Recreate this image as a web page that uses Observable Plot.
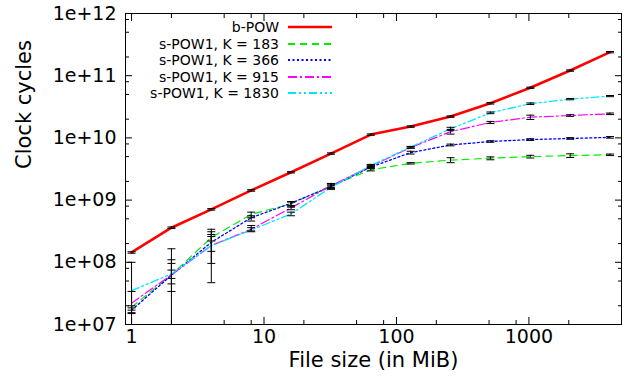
<!DOCTYPE html>
<html>
<head>
<meta charset="utf-8">
<script src="https://cdn.jsdelivr.net/npm/d3@7"></script>
<script src="https://cdn.jsdelivr.net/npm/@observablehq/plot@0.6"></script>
<style>
  html, body { margin: 0; padding: 0; background: white; }
</style>
</head>
<body>
<div id="chart"></div>
<script>
// ---- data ----
const fileSizes = [1, 2, 4, 8, 16, 32, 64, 128, 256, 512, 1024, 2048, 4096];

const seriesNames = ["b-POW", "s-POW1, K = 183", "s-POW1, K = 366", "s-POW1, K = 915", "s-POW1, K = 1830"];

const bPow   = [1.44e8, 3.6e8, 7.1e8, 1.43e9, 2.8e9, 5.6e9, 1.13e10, 1.52e10, 2.2e10, 3.6e10, 6.4e10, 1.21e11, 2.39e11];
const bPowLo = [1.40e8, 3.5e8, 6.9e8, 1.39e9, 2.73e9, 5.45e9, 1.10e10, 1.48e10, 2.14e10, 3.5e10, 6.25e10, 1.18e11, 2.33e11];
const bPowHi = [1.48e8, 3.7e8, 7.3e8, 1.47e9, 2.87e9, 5.75e9, 1.16e10, 1.56e10, 2.26e10, 3.7e10, 6.55e10, 1.24e11, 2.45e11];

const k183   = [1.9e7, 6.3e7, 2.5e8, 5.9e8, 8.7e8, 1.7e9, 3.07e9, 3.9e9, 4.4e9, 4.7e9, 5.0e9, 5.2e9, 5.35e9];
const k183Lo = [1.7e7, 3.4e7, 2.2e8, 5.2e8, 8.2e8, 1.55e9, 2.95e9, 3.8e9, 4.0e9, 4.45e9, 4.75e9, 4.85e9, 5.2e9];
const k183Hi = [2.0e7, 1.1e8, 2.8e8, 6.4e8, 9.3e8, 1.85e9, 3.2e9, 4.0e9, 4.8e9, 4.95e9, 5.25e9, 5.55e9, 5.5e9];

const k366   = [1.7e7, 6.2e7, 2.1e8, 5.2e8, 8.9e8, 1.65e9, 3.4e9, 5.8e9, 7.7e9, 8.75e9, 9.4e9, 9.8e9, 1.02e10];
const k366Lo = [1.55e7, 4.5e7, 9.6e7, 4.6e8, 7.7e8, 1.5e9, 3.25e9, 5.5e9, 7.45e9, 8.5e9, 9.1e9, 9.5e9, 9.9e9];
const k366Hi = [1.85e7, 9.6e7, 3.1e8, 5.6e8, 9.5e8, 1.8e9, 3.55e9, 6.1e9, 7.95e9, 9.0e9, 9.7e9, 1.01e10, 1.05e10];

const k915   = [2.2e7, 6.3e7, 1.86e8, 3.4e8, 7.5e8, 1.7e9, 3.5e9, 7.0e9, 1.26e10, 1.77e10, 2.15e10, 2.29e10, 2.44e10];
const k915Lo = [1.5e7, 8e6, 4.7e7, 3.2e8, 7.0e8, 1.6e9, 3.35e9, 6.8e9, 1.15e10, 1.7e10, 1.98e10, 2.22e10, 2.37e10];
const k915Hi = [3.4e7, 1.65e8, 3.4e8, 3.9e8, 8.0e8, 1.85e9, 3.65e9, 7.2e9, 1.37e10, 1.84e10, 2.32e10, 2.36e10, 2.51e10];

const k1830   = [3.5e7, 6.5e7, 1.85e8, 3.3e8, 6.0e8, 1.6e9, 3.6e9, 7.1e9, 1.4e10, 2.53e10, 3.55e10, 4.2e10, 4.7e10];
const k1830Lo = [8e6, 5.5e7, 1.5e8, 3.1e8, 5.6e8, 1.5e9, 3.45e9, 6.9e9, 1.32e10, 2.45e10, 3.45e10, 4.1e10, 4.6e10];
const k1830Hi = [1.0e8, 7.5e7, 2.6e8, 3.6e8, 6.4e8, 1.7e9, 3.75e9, 7.3e9, 1.48e10, 2.61e10, 3.65e10, 4.3e10, 4.8e10];

const xMajorTicks = [1, 10, 100, 1000];
const xMinorTicks = [2, 5, 8, 20, 50, 80, 200, 500, 800, 2000];
const yMajorTicks = [1e7, 1e8, 1e9, 1e10, 1e11, 1e12];
const yMinorTicks = [2e7, 5e7, 8e7, 2e8, 5e8, 8e8, 2e9, 5e9, 8e9, 2e10, 5e10, 8e10, 2e11, 5e11, 8e11];

// ---- styles ----
const styles = [
  {color: "#ff0000", width: 2.6, dash: null},
  {color: "#00ee00", width: 1.2, dash: "7,5"},
  {color: "#0000ff", width: 1.3, dash: "2,2.5"},
  {color: "#ff00ff", width: 1.2, dash: "9,3,2,3"},
  {color: "#00e5ff", width: 1.3, dash: "8,3,2,3,2,3"}
];

const seriesData = [
  [bPow, bPowLo, bPowHi],
  [k183, k183Lo, k183Hi],
  [k366, k366Lo, k366Hi],
  [k915, k915Lo, k915Hi],
  [k1830, k1830Lo, k1830Hi]
];

const rows = [];
seriesData.forEach(([v, lo, hi], s) => {
  fileSizes.forEach((x, i) => rows.push({series: seriesNames[s], s, x, y: v[i], lo: lo[i], hi: hi[i]}));
});

const cap = {draw(ctx) { ctx.moveTo(-4, 0); ctx.lineTo(4, 0); }};
const fmtY = d => "1e+" + String(Math.round(Math.log10(d))).padStart(2, "0");

function legend() {
  const g = d3.create("svg:g").attr("font-family", "DejaVu Sans").attr("font-size", 14);
  seriesNames.forEach((name, i) => {
    const y = Math.round(27 + i * 16.5);
    g.append("text").attr("x", 279).attr("y", y).attr("dy", "0.35em")
      .attr("text-anchor", "end").attr("fill", "black").text(name);
    g.append("line").attr("x1", 288).attr("x2", 332).attr("y1", y).attr("y2", y)
      .attr("stroke", styles[i].color).attr("stroke-width", Math.max(2, styles[i].width))
      .attr("stroke-dasharray", styles[i].dash);
  });
  return g.node();
}

const marks = [];
styles.forEach((st, s) => {
  marks.push(Plot.line(rows.filter(r => r.s === s), {
    x: "x", y: "y", stroke: st.color, strokeWidth: st.width,
    strokeDasharray: st.dash, clip: true
  }));
});
marks.push(
  Plot.ruleX(rows, {x: "x", y1: "lo", y2: "hi", stroke: "black", strokeWidth: 1, clip: true}),
  Plot.dot(rows, {x: "x", y: "lo", symbol: cap, r: 4, stroke: "black", fill: "none", strokeWidth: 1, clip: true}),
  Plot.dot(rows, {x: "x", y: "hi", symbol: cap, r: 4, stroke: "black", fill: "none", strokeWidth: 1, clip: true}),
  // inward ticks on all four sides
  Plot.axisX(xMajorTicks, {anchor: "bottom", tickSize: -7, tickFormat: () => "", label: null}),
  Plot.axisX(xMinorTicks, {anchor: "bottom", tickSize: -4, tickFormat: () => "", label: null}),
  Plot.axisX(xMajorTicks, {anchor: "top", tickSize: -7, tickFormat: () => "", label: null}),
  Plot.axisX(xMinorTicks, {anchor: "top", tickSize: -4, tickFormat: () => "", label: null}),
  Plot.axisY(yMajorTicks, {anchor: "left", tickSize: -7, tickFormat: () => "", label: null}),
  Plot.axisY(yMinorTicks, {anchor: "left", tickSize: -4, tickFormat: () => "", label: null}),
  Plot.axisY(yMajorTicks, {anchor: "right", tickSize: -7, tickFormat: () => "", label: null}),
  Plot.axisY(yMinorTicks, {anchor: "right", tickSize: -4, tickFormat: () => "", label: null}),
  Plot.frame({stroke: "black", strokeWidth: 1}),
  // tick labels
  Plot.text(yMajorTicks, {y: d => d, text: fmtY, frameAnchor: "left", dx: -9, textAnchor: "end", fontSize: 19}),
  Plot.text(xMajorTicks, {x: d => d, text: d => String(d), frameAnchor: "bottom", dy: 18, fontSize: 19}),
  // axis titles
  Plot.text(["Clock cycles"], {text: d => d, frameAnchor: "left", dx: -101, rotate: -90, fontSize: 21}),
  Plot.text(["File size (in MiB)"], {text: d => d, frameAnchor: "bottom", dy: 42, fontSize: 21}),
  legend
);

const chart = Plot.plot({
  width: 639,
  height: 385,
  marginLeft: 125,
  marginRight: 18,
  marginTop: 13,
  marginBottom: 61,
  style: {fontFamily: "DejaVu Sans", fontSize: "19px", background: "white", color: "black"},
  x: {type: "log", domain: [0.9, 5000], axis: null},
  y: {type: "log", domain: [1e7, 1e12], axis: null},
  marks
});
document.getElementById("chart").appendChild(chart);
</script>
</body>
</html>
